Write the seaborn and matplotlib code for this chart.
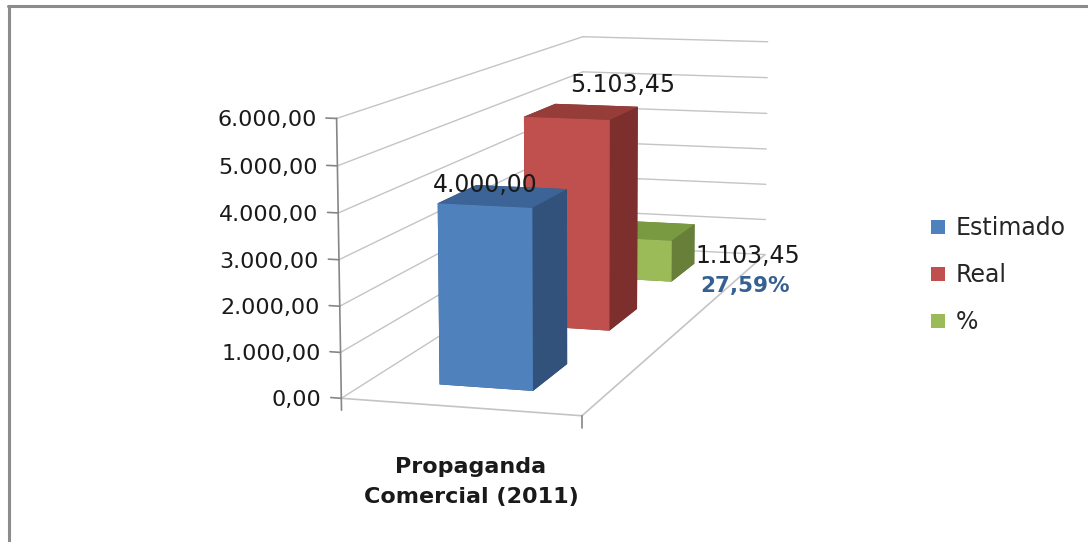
import numpy as np
import matplotlib
matplotlib.use("Agg")
import matplotlib.pyplot as plt
import seaborn as sns
from matplotlib.patches import Rectangle
from matplotlib.lines import Line2D
from mpl_toolkits.mplot3d import proj3d

# ---- data -------------------------------------------------------------
category = "Propaganda\nComercial (2011)"
series = ["Estimado", "Real", "%"]
values = [4000.00, 5103.45, 1103.45]
value_labels = ["4.000,00", "5.103,45", "1.103,45"]
pct_label = "27,59%"
yticks = [0, 1000, 2000, 3000, 4000, 5000, 6000]
ytick_labels = ["0,00", "1.000,00", "2.000,00", "3.000,00",
                "4.000,00", "5.000,00", "6.000,00"]

# ---- style ------------------------------------------------------------
sns.set_theme(style="white")
plt.rcParams["font.family"] = ["DejaVu Sans"]

front = sns.color_palette(["#4F81BD", "#C0504D", "#9BBB59"])
side = ["#32527B", "#7D2F2D", "#687F3A"]
top = ["#3C6496", "#963D3A", "#7A9A42"]
grid_c = "#C4C4C4"
axis_c = "#868686"

fig = plt.figure(figsize=(10.88, 5.42), dpi=100)
ax = fig.add_axes([0.1503, -0.133, 0.75, 1.5], projection="3d")
ax.set_proj_type("persp", focal_length=0.54)
ax.view_init(elev=9.3, azim=-74)
ax.set_box_aspect((253, 886, 285), zoom=0.99)
depth = len(series)
ax.set_xlim(0, 1)
ax.set_ylim(0, depth)
ax.set_zlim(0, yticks[-1])
ax.set_axis_off()

# walls: gridlines on the left wall and on the back wall
for v in yticks:
    ax.plot([0, 0], [0, depth], [v, v], color=grid_c, lw=1, zorder=0.2)
    ax.plot([0, 1], [depth, depth], [v, v], color=grid_c, lw=1, zorder=0.2)
# floor edges
ax.plot([0, 1], [0, 0], [0, 0], color=grid_c, lw=1.2, zorder=0.2)
ax.plot([1, 1], [0, depth], [0, 0], color=grid_c, lw=1.2, zorder=0.2)
# value axis and tick marks
ax.plot([0, 0], [0, 0], [0, yticks[-1]], color=axis_c, lw=1.2, zorder=0.3)
for v in yticks:
    ax.plot([-0.045, 0], [0, 0], [v, v], color=axis_c, lw=1.2, zorder=0.3)
for xe in (0, 1):
    ax.plot([xe, xe], [0, 0], [0, -260], color=axis_c, lw=1.2, zorder=0.3)

# bars: one cuboid per series, laid out in depth
bw, bd = 0.4, 0.42
for i, v in enumerate(values):
    faces = [side[i], top[i], front[i], side[i], side[i], side[i]]
    ax.bar3d(0.5 - bw / 2, i + 0.28, 0, bw, bd, v,
             color=faces, shade=False, edgecolor="none")

M = ax.get_proj()


def proj(x, y, z):
    px, py, _ = proj3d.proj_transform(x, y, z, M)
    return px, py


# tick labels
for v, s in zip(yticks, ytick_labels):
    ax.annotate(s, xy=proj(0, 0, v), xycoords="data", xytext=(-20, -2),
                textcoords="offset pixels", ha="right", va="center",
                fontsize=16, color="#1a1a1a", zorder=50)

# value labels
offsets = [(-24, -1), (36, 14), (98, -38)]
for i, (v, s) in enumerate(zip(values, value_labels)):
    ax.annotate(s, xy=proj(0.52, i + 0.5, v), xycoords="data",
                xytext=offsets[i], textcoords="offset pixels",
                ha="center", va="bottom", fontsize=17, color="#1a1a1a",
                zorder=60)
ax.annotate(pct_label, xy=proj(0.52, 2.5, values[2]), xycoords="data",
            xytext=(95, -66), textcoords="offset pixels", ha="center",
            va="bottom", fontsize=15.5, fontweight="bold", color="#376092",
            zorder=60)

# category label
ax.annotate(category, xy=proj(0.5, 0, 0), xycoords="data", xytext=(11, -50),
            textcoords="offset pixels", ha="center", va="top", fontsize=16,
            fontweight="bold", color="#1a1a1a", linespacing=1.65, zorder=60)

# legend
handles = [Rectangle((0, 0), 1, 1, facecolor=c, edgecolor="none") for c in front]
fig.legend(handles, series, loc="center left", bbox_to_anchor=(0.836, 0.492),
           frameon=False, fontsize=17, handlelength=0.62, handleheight=0.55,
           handletextpad=0.45, labelspacing=0.98)

# chart frame
fig.add_artist(Line2D([8.5 / 1088, 8.5 / 1088], [0, 1 - 5.5 / 542],
                      transform=fig.transFigure, color="#8C8C8C", lw=2.2))
fig.add_artist(Line2D([8 / 1088, 1], [1 - 5.5 / 542, 1 - 5.5 / 542],
                      transform=fig.transFigure, color="#8C8C8C", lw=2.2))

fig.savefig("out.png", dpi=100)
